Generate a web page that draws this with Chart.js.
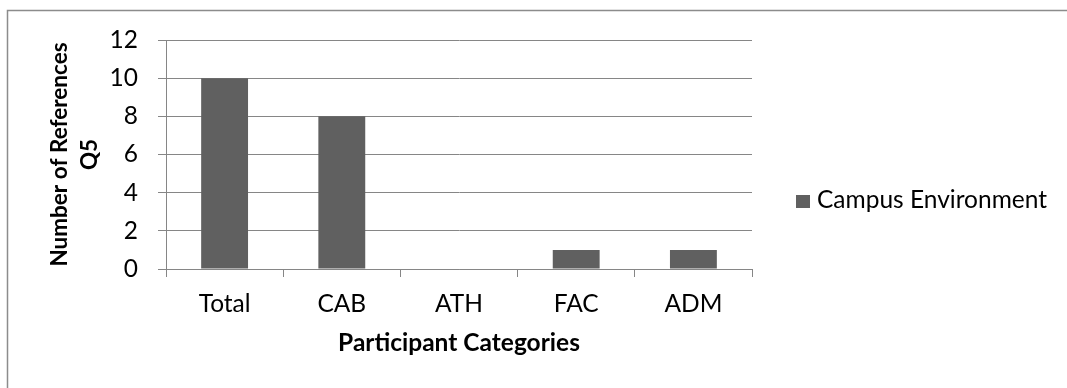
<!DOCTYPE html>
<html>
<head>
<meta charset="utf-8">
<script src="https://cdn.jsdelivr.net/npm/chart.js@4.4.1/dist/chart.umd.min.js"></script>
<style>
  html, body { margin: 0; padding: 0; background: #ffffff; }
  #wrap { width: 1067px; height: 388px; }
</style>
</head>
<body>
<div id="wrap"><canvas id="chart" width="1067" height="388"></canvas></div>
<script>
// Chart data
const categories = ['Total', 'CAB', 'ATH', 'FAC', 'ADM'];
const campusEnvironment = [10, 8, 0, 1, 1];
const seriesName = 'Campus Environment';
const yTitleLines = ['Number of References', 'Q5'];
const xTitleText = 'Participant Categories';
const yMin = 0, yMax = 12, yStep = 2;

const FONT = 'Lato';
const FONT_SIZE = 24.5;
const Y_TITLE_SIZE = 22.5;
const AXIS_GRAY = '#868686';
const BAR_GRAY = '#606060';

// Outer frame of the chart (top and left edges)
const framePlugin = {
  id: 'frame',
  beforeDraw(chart) {
    const ctx = chart.ctx;
    ctx.save();
    ctx.strokeStyle = '#8c8c8c';
    ctx.lineWidth = 1.5;
    ctx.beginPath();
    ctx.moveTo(7.5, chart.height);
    ctx.lineTo(7.5, 10.5);
    ctx.lineTo(chart.width, 10.5);
    ctx.stroke();
    ctx.restore();
  }
};

// Legend: square swatch with the series name to the right of the plot
const sideLegend = {
  id: 'sideLegend',
  afterDraw(chart) {
    const ctx = chart.ctx;
    const ds = chart.data.datasets[0];
    ctx.save();
    ctx.fillStyle = ds.backgroundColor;
    ctx.fillRect(796, 195, 14, 13);
    ctx.fillStyle = '#000000';
    ctx.font = FONT_SIZE + 'px ' + FONT;
    ctx.textAlign = 'left';
    ctx.textBaseline = 'alphabetic';
    ctx.fillText(ds.label, 817, 208);
    ctx.restore();
  }
};

new Chart(document.getElementById('chart'), {
  type: 'bar',
  data: {
    labels: categories,
    datasets: [{
      label: seriesName,
      data: campusEnvironment,
      backgroundColor: BAR_GRAY,
      borderWidth: 0,
      categoryPercentage: 1.0,
      barPercentage: 0.4
    }]
  },
  options: {
    responsive: false,
    devicePixelRatio: 1,
    animation: false,
    layout: { padding: { left: 8, right: 315, top: 40, bottom: 9 } },
    plugins: {
      legend: { display: false },
      tooltip: { enabled: false }
    },
    scales: {
      x: {
        offset: true,
        grid: {
          offset: true,
          drawOnChartArea: false,
          drawTicks: true,
          tickLength: 8,
          color: AXIS_GRAY,
          lineWidth: 1
        },
        border: { color: AXIS_GRAY, width: 1 },
        ticks: {
          padding: 12,
          color: '#000000',
          font: { family: FONT, size: FONT_SIZE }
        },
        title: {
          display: true,
          text: xTitleText,
          color: '#000000',
          padding: { top: 0, bottom: 21 },
          font: { family: FONT, size: FONT_SIZE, weight: 'bold', lineHeight: 1.2 }
        },
        afterFit(scale) { scale.height = 110; }
      },
      y: {
        min: yMin,
        max: yMax,
        grid: {
          color: AXIS_GRAY,
          lineWidth: 1,
          drawTicks: true,
          tickLength: 8
        },
        border: { color: AXIS_GRAY, width: 1 },
        ticks: {
          stepSize: yStep,
          padding: 20,
          color: '#000000',
          font: { family: FONT, size: FONT_SIZE }
        },
        title: {
          display: true,
          text: yTitleLines,
          color: '#000000',
          padding: { top: 37, bottom: 0 },
          font: { family: FONT, size: Y_TITLE_SIZE, weight: 'bold', lineHeight: 1.32 }
        },
        afterFit(scale) { scale.width = 158; }
      }
    }
  },
  plugins: [framePlugin, sideLegend]
});
</script>
</body>
</html>
